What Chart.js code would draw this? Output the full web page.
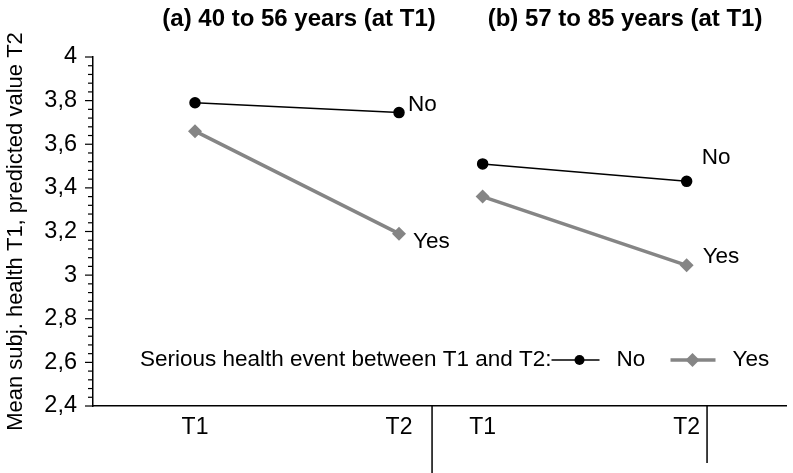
<!DOCTYPE html>
<html>
<head>
<meta charset="utf-8">
<script src="https://cdn.jsdelivr.net/npm/chart.js@4"></script>
<style>
  html, body { margin: 0; padding: 0; background: #fff; }
  #wrap { width: 793px; height: 473px; }
</style>
</head>
<body>
<div id="wrap"><canvas id="chart"></canvas></div>
<script>
const PERIODS = ['T1', 'T2'];
const PANELS = ['(a) 40 to 56 years (at T1)', '(b) 57 to 85 years (at T1)'];
const NO_EVENT = [[3.79, 3.745], [3.51, 3.43]];
const YES_EVENT = [[3.66, 3.19], [3.36, 3.045]];
const Y_TICKS = [2.4, 2.6, 2.8, 3, 3.2, 3.4, 3.6, 3.8, 4];
const SERIES = ['No', 'Yes'];
const LEGEND_TITLE = 'Serious health event between T1 and T2:';
const Y_TITLE = 'Mean subj. health T1, predicted value T2';

// layout of the two panels on one linear x scale
const PANEL_START = [0, 1.41];
const PANEL_TITLE_X = [0.51, 2.108];
const SEPARATORS = [[1.162, 473], [2.51, 463]];

const FONT = '"Liberation Sans", Arial, sans-serif';
const GREY = '#858585';

function buildPoints(values) {
  const pts = [];
  values.forEach((pair, p) => {
    pair.forEach((v, i) => pts.push({ x: PANEL_START[p] + i, y: v }));
    if (p < values.length - 1) pts.push({ x: PANEL_START[p] + 1.2, y: null });
  });
  return pts;
}

const xTickValues = [];
PANEL_START.forEach(s => PERIODS.forEach((_, i) => xTickValues.push(s + i)));

const extras = {
  id: 'extras',
  afterDraw(chart) {
    const ctx = chart.ctx;
    const x = chart.scales.x, y = chart.scales.y;
    const left = chart.chartArea.left, bottom = chart.chartArea.bottom;
    ctx.save();
    ctx.strokeStyle = '#000';
    ctx.lineWidth = 1.2;

    // major + minor ticks on the y axis
    for (let i = 0; i < Y_TICKS.length; i++) {
      const py = y.getPixelForValue(Y_TICKS[i]);
      ctx.beginPath(); ctx.moveTo(left - 8, py); ctx.lineTo(left, py); ctx.stroke();
      if (i < Y_TICKS.length - 1) {
        const step = (Y_TICKS[i + 1] - Y_TICKS[i]) / 5;
        for (let k = 1; k < 5; k++) {
          const my = y.getPixelForValue(Y_TICKS[i] + k * step);
          ctx.beginPath(); ctx.moveTo(left - 5, my); ctx.lineTo(left, my); ctx.stroke();
        }
      }
    }

    // panel separators below the axis
    ctx.lineWidth = 1.5;
    SEPARATORS.forEach(([v, end]) => {
      const px = x.getPixelForValue(v);
      ctx.beginPath(); ctx.moveTo(px, bottom); ctx.lineTo(px, end); ctx.stroke();
    });

    // panel titles
    ctx.fillStyle = '#000';
    ctx.font = 'bold 24px ' + FONT;
    ctx.textAlign = 'center';
    ctx.textBaseline = 'middle';
    PANELS.forEach((t, i) => ctx.fillText(t, x.getPixelForValue(PANEL_TITLE_X[i]), 19));

    // end labels next to T2 points
    ctx.font = '22.5px ' + FONT;
    ctx.textAlign = 'left';
    const offs = [[[9, -8], [14, 8]], [[15, -24], [16, -9]]];
    chart.data.datasets.forEach((ds, d) => {
      const meta = chart.getDatasetMeta(d);
      let panel = 0;
      meta.data.forEach((el, j) => {
        const raw = ds.data[j];
        if (raw.y === null) { panel++; return; }
        if (raw.x === PANEL_START[panel] + 1) {
          const o = offs[panel][d];
          ctx.fillText(SERIES[d], el.x + o[0], el.y + o[1]);
        }
      });
    });

    // legend
    const ly = 360;
    ctx.fillText(LEGEND_TITLE, 140, ly);
    const lx = 140 + ctx.measureText(LEGEND_TITLE).width;
    // No
    ctx.strokeStyle = '#000'; ctx.lineWidth = 1.5;
    ctx.beginPath(); ctx.moveTo(lx, ly); ctx.lineTo(lx + 48, ly); ctx.stroke();
    ctx.beginPath(); ctx.arc(lx + 28, ly, 5, 0, Math.PI * 2); ctx.fill();
    ctx.fillText(SERIES[0], lx + 65, ly);
    // Yes
    const gx = lx + 119;
    ctx.strokeStyle = GREY; ctx.fillStyle = GREY; ctx.lineWidth = 3.5;
    ctx.beginPath(); ctx.moveTo(gx, ly); ctx.lineTo(gx + 45, ly); ctx.stroke();
    ctx.beginPath();
    ctx.moveTo(gx + 22, ly - 7); ctx.lineTo(gx + 29, ly); ctx.lineTo(gx + 22, ly + 7); ctx.lineTo(gx + 15, ly);
    ctx.closePath(); ctx.fill();
    ctx.fillStyle = '#000';
    ctx.fillText(SERIES[1], gx + 62, ly);
    ctx.restore();
  }
};

const CHART = new Chart(document.getElementById('chart'), {
  type: 'line',
  data: {
    datasets: [{
      label: SERIES[0],
      data: buildPoints(NO_EVENT),
      borderColor: '#000',
      backgroundColor: '#000',
      borderWidth: 1.5,
      pointStyle: 'circle',
      pointRadius: 5,
      pointHoverRadius: 5,
      spanGaps: false
    }, {
      label: SERIES[1],
      data: buildPoints(YES_EVENT),
      borderColor: GREY,
      backgroundColor: GREY,
      borderWidth: 3.5,
      pointStyle: 'rectRot',
      pointRadius: 7,
      pointHoverRadius: 7,
      pointBorderWidth: 0,
      spanGaps: false
    }]
  },
  options: {
    responsive: true,
    maintainAspectRatio: false,
    animation: false,
    layout: { padding: { top: 57, right: 0, left: 0, bottom: 0 } },
    plugins: { legend: { display: false }, tooltip: { enabled: false } },
    scales: {
      x: {
        type: 'linear',
        min: -0.5,
        max: 2.897,
        afterBuildTicks: s => { s.ticks = xTickValues.map(v => ({ value: v })); },
        afterFit: s => { s.height = 67; },
        grid: { display: false, drawTicks: false },
        border: { display: true, color: '#000', width: 1.5 },
        ticks: {
          color: '#000',
          font: { family: FONT, size: 23 },
          padding: 8,
          autoSkip: false,
          maxRotation: 0,
          callback: (v, i) => PERIODS[i % PERIODS.length]
        }
      },
      y: {
        min: 2.4,
        max: 4,
        afterBuildTicks: s => { s.ticks = Y_TICKS.map(v => ({ value: v })); },
        afterFit: s => { s.width = 93; },
        grid: { display: false, drawTicks: false },
        border: { display: true, color: '#000', width: 1.5 },
        title: {
          display: true,
          text: Y_TITLE,
          color: '#000',
          font: { family: FONT, size: 22 },
          padding: { top: 3, bottom: 0 }
        },
        ticks: {
          color: '#000',
          font: { family: FONT, size: 23.5 },
          padding: 16,
          callback: v => String(v).replace('.', ',')
        }
      }
    }
  },
  plugins: [extras]
});
</script>
</body>
</html>
